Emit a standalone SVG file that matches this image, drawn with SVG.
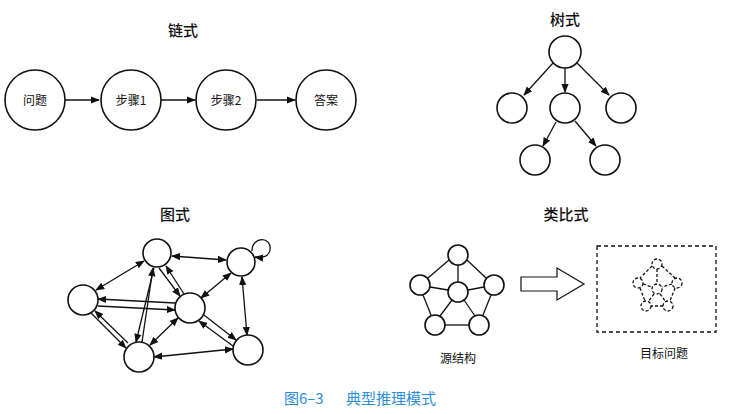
<svg xmlns="http://www.w3.org/2000/svg" width="729" height="414" viewBox="0 0 729 414">
<style>
.n{fill:#fff;stroke:#111;stroke-width:1.6}
.e{stroke:#111;stroke-width:1.3;fill:none}
.t{font-family:"Noto Sans CJK SC",sans-serif;fill:#111}
.h{font-size:15px;font-weight:500;text-anchor:middle}
.l{font-size:12px;text-anchor:middle}
.d{fill:#fff;stroke:#111;stroke-width:1.3;stroke-dasharray:3 2}
.c{font-family:"Noto Sans CJK SC",sans-serif;font-size:15px;fill:#2a8fd6}
</style>
<defs>
<marker id="a" viewBox="0 0 10 10" refX="9" refY="5" markerWidth="7" markerHeight="7" orient="auto-start-reverse"><path d="M0,1 L10,5 L0,9 Z" fill="#111"/></marker>
</defs>
<rect width="729" height="414" fill="#fff"/>
<text class="t h" x="183" y="36">链式</text>
<text class="t h" x="565" y="25">树式</text>
<text class="t h" x="175" y="220">图式</text>
<text class="t h" x="566" y="220">类比式</text>
<g id="connectors">
<line class="e" x1="65" y1="100" x2="99" y2="100" marker-end="url(#a)"/>
<line class="e" x1="161" y1="100" x2="195" y2="100" marker-end="url(#a)"/>
<line class="e" x1="257" y1="100" x2="295" y2="100" marker-end="url(#a)"/>
<line class="e" x1="553" y1="63" x2="524" y2="95" marker-end="url(#a)"/>
<line class="e" x1="565" y1="68" x2="565" y2="92" marker-end="url(#a)"/>
<line class="e" x1="577" y1="63" x2="609" y2="95" marker-end="url(#a)"/>
<line class="e" x1="556" y1="122" x2="543" y2="146" marker-end="url(#a)"/>
<line class="e" x1="575" y1="121" x2="596" y2="146" marker-end="url(#a)"/>
<line class="e" x1="172" y1="256" x2="226" y2="260" marker-start="url(#a)" marker-end="url(#a)"/>
<line class="e" x1="144" y1="261" x2="96" y2="290" marker-start="url(#a)" marker-end="url(#a)"/>
<line class="e" x1="159" y1="268" x2="180" y2="296" marker-end="url(#a)"/>
<line class="e" x1="184" y1="294" x2="166" y2="266" marker-end="url(#a)"/>
<line class="e" x1="154" y1="268" x2="136" y2="342" marker-end="url(#a)"/>
<line class="e" x1="142" y1="342" x2="153" y2="268" marker-end="url(#a)"/>
<line class="e" x1="231" y1="273" x2="201" y2="298" marker-start="url(#a)" marker-end="url(#a)"/>
<line class="e" x1="242" y1="277" x2="247" y2="335" marker-start="url(#a)" marker-end="url(#a)"/>
<line class="e" x1="175" y1="303" x2="98" y2="299" marker-end="url(#a)"/>
<line class="e" x1="98" y1="306" x2="175" y2="310" marker-end="url(#a)"/>
<line class="e" x1="90" y1="312" x2="126" y2="348" marker-end="url(#a)"/>
<line class="e" x1="128" y1="343" x2="95" y2="311" marker-end="url(#a)"/>
<line class="e" x1="178" y1="318" x2="150" y2="345" marker-start="url(#a)" marker-end="url(#a)"/>
<line class="e" x1="204" y1="315" x2="236" y2="340" marker-end="url(#a)"/>
<line class="e" x1="233" y1="346" x2="199" y2="321" marker-end="url(#a)"/>
<line class="e" x1="154" y1="357" x2="233" y2="349" marker-start="url(#a)" marker-end="url(#a)"/>
<path class="e" d="M252,251 C252,236 272,236 270,250 C269,256 263,258 255,257" marker-end="url(#a)"/>
<g class="e">
<line x1="458" y1="265" x2="458" y2="282"/><line x1="467" y1="260" x2="486" y2="278"/><line x1="449" y1="260" x2="428" y2="278"/>
<line x1="430" y1="287" x2="448" y2="290"/><line x1="484" y1="287" x2="468" y2="290"/>
<line x1="423" y1="295" x2="431" y2="315"/><line x1="491" y1="295" x2="483" y2="315"/>
<line x1="452" y1="300" x2="440" y2="316"/><line x1="464" y1="300" x2="475" y2="316"/>
<line x1="445" y1="325" x2="469" y2="325"/>
</g>
<path d="M521,277 H557 V268 L584,284 L557,300 V291 H521 Z" fill="#fff" stroke="#111" stroke-width="1.2"/>
<rect x="597" y="246" width="119" height="86" fill="none" stroke="#111" stroke-width="1.3" stroke-dasharray="4 3"/>
<g class="e" stroke-dasharray="3 2">
<line x1="657" y1="269" x2="657" y2="285"/><line x1="662" y1="266" x2="675" y2="278"/><line x1="652" y1="266" x2="640" y2="278"/>
<line x1="643" y1="284" x2="652" y2="287"/><line x1="672" y1="284" x2="662" y2="287"/>
<line x1="640" y1="288" x2="645" y2="301"/><line x1="675" y1="288" x2="670" y2="301"/>
<line x1="654" y1="294" x2="648" y2="302"/><line x1="660" y1="294" x2="666" y2="302"/>
<line x1="650" y1="306" x2="664" y2="306"/>
</g>
</g>
<g id="chain1"><circle class="n" cx="35" cy="100" r="30"/><text class="t l" x="35" y="105">问题</text></g>
<g id="chain2"><circle class="n" cx="131" cy="100" r="30"/><text class="t l" x="131" y="105">步骤1</text></g>
<g id="chain3"><circle class="n" cx="226" cy="100" r="30"/><text class="t l" x="226" y="105">步骤2</text></g>
<g id="chain4"><circle class="n" cx="326" cy="100" r="30"/><text class="t l" x="326" y="105">答案</text></g>
<g id="tree-root"><circle class="n" cx="565" cy="52" r="16"/></g>
<g id="tree-l"><circle class="n" cx="512" cy="108" r="15"/></g>
<g id="tree-m"><circle class="n" cx="565" cy="108" r="15"/></g>
<g id="tree-r"><circle class="n" cx="621" cy="108" r="15"/></g>
<g id="tree-ml"><circle class="n" cx="535" cy="160" r="15"/></g>
<g id="tree-mr"><circle class="n" cx="605" cy="160" r="15"/></g>
<g id="gA"><circle class="n" cx="157" cy="253" r="14"/></g>
<g id="gB"><circle class="n" cx="241" cy="262" r="14"/></g>
<g id="gC"><circle class="n" cx="83" cy="300" r="15"/></g>
<g id="gD"><circle class="n" cx="190" cy="308" r="15"/></g>
<g id="gE"><circle class="n" cx="139" cy="357" r="15"/></g>
<g id="gF"><circle class="n" cx="248" cy="350" r="15"/></g>
<g id="src">
<circle class="n" cx="458" cy="255" r="10"/><circle class="n" cx="420" cy="285" r="10"/><circle class="n" cx="494" cy="285" r="10"/>
<circle class="n" cx="458" cy="292" r="10"/><circle class="n" cx="435" cy="325" r="10"/><circle class="n" cx="479" cy="325" r="10"/>
<text class="t l" x="458" y="363">源结构</text>
</g>
<g id="target">
<circle class="d" cx="657" cy="264" r="5"/><circle class="d" cx="638" cy="283" r="5"/><circle class="d" cx="677" cy="283" r="5"/>
<circle class="d" cx="657" cy="289" r="5"/><circle class="d" cx="646" cy="306" r="5"/><circle class="d" cx="668" cy="306" r="5"/>
<text class="t l" x="664" y="358">目标问题</text>
</g>
<text class="c" x="284" y="404">图6–3</text>
<text class="c" x="346" y="404">典型推理模式</text>
</svg>
